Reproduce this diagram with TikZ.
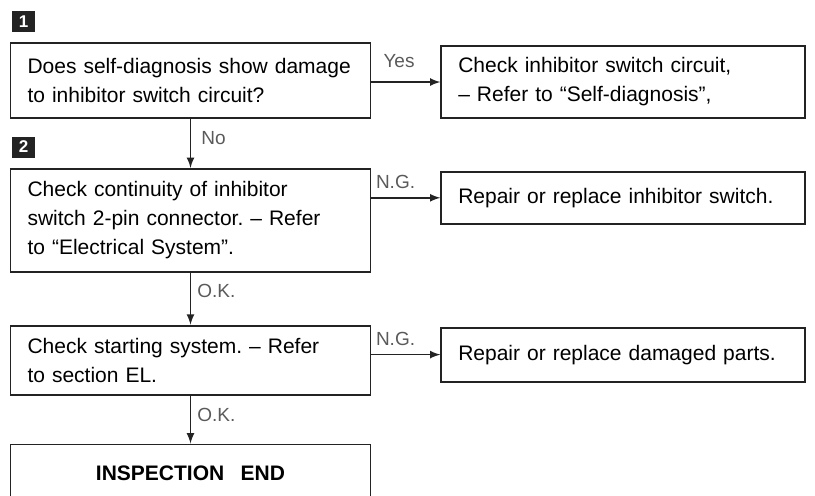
\documentclass[tikz,border=0pt]{standalone}
\usepackage{fontspec}
\setmainfont{Liberation Sans}
\frenchspacing
\usetikzlibrary{arrows, positioning}
\definecolor{inkgray}{RGB}{35, 35, 35}
\definecolor{labgray}{RGB}{90, 90, 90}

\begin{document}
\begin{tikzpicture}[
    x=0.5pt, y=-0.5pt,
    node distance=25pt,
    box/.style={rectangle, draw=inkgray, line width=0.9pt, inner xsep=8.5pt, inner ysep=0pt, text width=163pt, align=left, font=\fontsize{10.5}{14.5}\selectfont},
    sidebox/.style={box, text width=165pt},
    numbox/.style={rectangle, fill=inkgray, text=white, inner sep=0pt, minimum width=11.5pt, minimum height=10.5pt, font=\fontsize{8.5}{8.5}\selectfont\bfseries},
    lab/.style={text=labgray, inner sep=1pt, font=\fontsize{9.5}{10}\selectfont},
    flow/.style={->, >=latex, line width=0.8pt, draw=inkgray}
  ]
  \useasboundingbox (0,0) rectangle (815,495);
  \clip (0,0) rectangle (815,495);

  % left column
  \node [box, minimum height=37.5pt] (diag) at (190.5,80.5) {Does self-diagnosis show damage\\to inhibitor switch circuit?};
  \node [box, minimum height=51.5pt, below=24.5pt of diag] (cont) {Check continuity of inhibitor\\switch 2-pin connector. -- Refer\\to ``Electrical System''.};
  \node [box, minimum height=34.5pt, below=26pt of cont] (start) {Check starting system. -- Refer\\to section EL.};
  \node [box, minimum height=29pt, below=24pt of start, align=center, font=\fontsize{10.5}{14.5}\selectfont\bfseries] (finish) {INSPECTION\hspace{0.45em} END};

  % right column
  \node [sidebox, minimum height=36pt, right=34.5pt of diag.north east, anchor=north west, yshift=-1.5pt] (selfdiag) {Check inhibitor switch circuit,\\-- Refer to ``Self-diagnosis'',};
  \node [sidebox, minimum height=26pt, right=34.5pt of cont.north east, anchor=north west, yshift=-1.5pt] (fixswitch) {Repair or replace inhibitor switch.};
  \node [sidebox, minimum height=27pt, right=34.5pt of start.north east, anchor=north west, yshift=-1pt] (fixparts) {Repair or replace damaged parts.};

  % step numbers
  \node [numbox, above=5pt of diag.north west, anchor=south west, xshift=1pt] (step1) {1};
  \node [numbox, above=5pt of cont.north west, anchor=south west, xshift=1pt] (step2) {2};

  % connectors
  \draw [flow] (diag.south) -- node [lab, right=4pt, pos=0.4] {No} (cont.north);
  \draw [flow] (cont.south) -- node [lab, right=2pt, pos=0.35] {O.K.} (start.north);
  \draw [flow] (start.south) -- node [lab, right=2pt, pos=0.4] {O.K.} (finish.north);
  \draw [flow] (selfdiag.west -| diag.east) -- node [lab, above=6pt, pos=0.4] {Yes} (selfdiag.west);
  \draw [flow] (fixswitch.west -| cont.east) -- node [lab, above=3pt, pos=0.35] {N.G.} (fixswitch.west);
  \draw [flow] (fixparts.west -| start.east) -- node [lab, above=3pt, pos=0.35] {N.G.} (fixparts.west);
\end{tikzpicture}
\end{document}
